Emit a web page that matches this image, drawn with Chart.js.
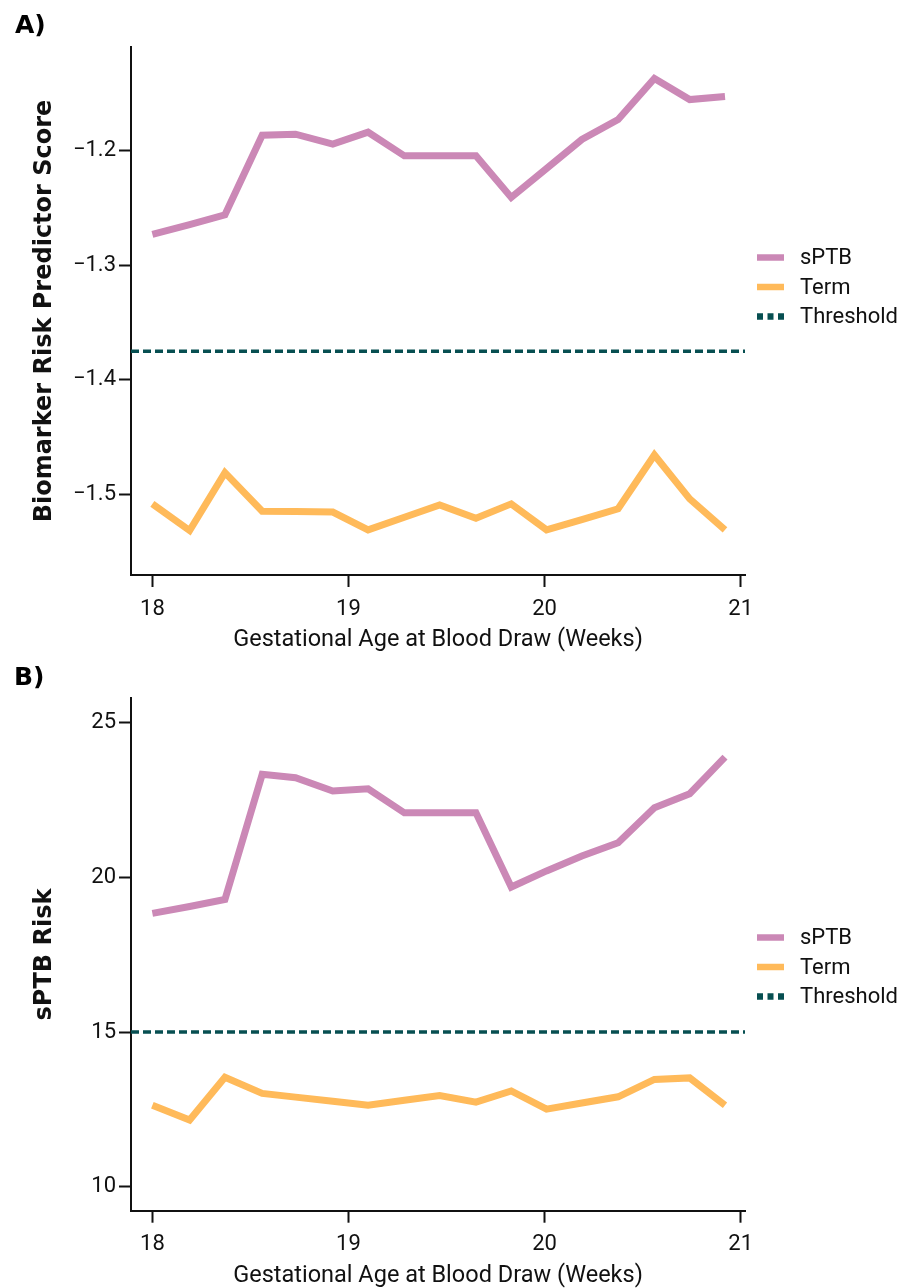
<!DOCTYPE html>
<html>
<head>
<meta charset="utf-8">
<script src="https://cdn.jsdelivr.net/npm/chart.js@4.4.1/dist/chart.umd.min.js"></script>
<style>
  body { margin: 0; background: #fff; width: 908px; height: 1288px; position: relative; overflow: hidden; }
  .panel { position: absolute; left: 0; width: 908px; }
  .lbl { position: absolute; font: bold 25px "DejaVu Sans", sans-serif; line-height: 1; color: #000; }
</style>
</head>
<body>
<div class="panel" style="top:0;height:655px"><canvas id="chartA"></canvas></div>
<div class="panel" style="top:655px;height:633px"><canvas id="chartB"></canvas></div>
<div class="lbl" style="left:15px;top:12px">A)</div>
<div class="lbl" style="left:14px;top:664px">B)</div>
<script>
// gestational age of each draw (weeks)
const weeks = [18.0, 18.19, 18.37, 18.56, 18.73, 18.92, 19.10, 19.285, 19.465, 19.65, 19.83, 20.01, 20.19, 20.375, 20.56, 20.74, 20.92];

// panel A - biomarker risk predictor score
const sptbScore = [-1.273, -1.2645, -1.256, -1.1865, -1.1856, -1.1943, -1.1839, -1.2045, -1.2045, -1.2045, -1.2408, -1.2155, -1.1902, -1.1728, -1.137, -1.1554, -1.1527];
const termScore = [-1.5083, -1.5316, -1.481, -1.5147, -1.515, -1.5155, -1.531, -1.520, -1.5092, -1.5208, -1.5083, -1.531, -1.522, -1.5126, -1.4656, -1.504, -1.531];
const scoreThreshold = -1.375;
const scoreTicks = [-1.5, -1.4, -1.3, -1.2];

// panel B - sPTB risk
const sptbRisk = [18.83, 19.05, 19.28, 23.315, 23.205, 22.776, 22.85, 22.075, 22.075, 22.075, 19.68, 20.2, 20.68, 21.11, 22.24, 22.69, 23.87];
const termRisk = [12.64, 12.16, 13.54, 13.02, 12.9, 12.77, 12.64, 12.8, 12.95, 12.74, 13.1, 12.51, 12.71, 12.91, 13.47, 13.52, 12.64];
const riskThreshold = 15;
const riskTicks = [10, 15, 20, 25];

const weekTicks = [18, 19, 20, 21];
const xMin = 17.891, xMax = 21.022;

const pink = '#CB88B6';
const orange = '#FFBA5A';
const teal = '#074F51';

// draws the legend to the right of the plot
const sideLegend = {
  id: 'sideLegend',
  afterDraw(chart, args, opts) {
    const ctx = chart.ctx;
    chart.data.datasets.forEach((ds, i) => {
      const y = opts.top + i * opts.gap;
      ctx.save();
      ctx.strokeStyle = ds.borderColor;
      ctx.lineWidth = 6.5;
      ctx.setLineDash(ds.borderDash ? [6, 4.5] : []);
      ctx.beginPath();
      ctx.moveTo(757, y);
      ctx.lineTo(784, y);
      ctx.stroke();
      ctx.setLineDash([]);
      ctx.fillStyle = '#111';
      ctx.font = '22px Roboto';
      ctx.textBaseline = 'middle';
      ctx.fillText(ds.label, 800, y + 1);
      ctx.restore();
    });
  }
};

const toPoints = (xs, ys) => xs.map((x, i) => ({ x: x, y: ys[i] }));

const makeChart = (id, cfg) => {
  const fmt = (v) => (v < 0 ? '\u2212' + Math.abs(v).toFixed(1) : String(v));
  new Chart(document.getElementById(id), {
    type: 'line',
    data: {
      datasets: [
        { label: 'sPTB', data: toPoints(weeks, cfg.sptb), borderColor: pink, borderWidth: 7 },
        { label: 'Term', data: toPoints(weeks, cfg.term), borderColor: orange, borderWidth: 7 },
        {
          label: 'Threshold',
          data: [{ x: xMin, y: cfg.threshold }, { x: xMax, y: cfg.threshold }],
          borderColor: teal, borderWidth: 3.5, borderDash: [8, 4]
        }
      ]
    },
    options: {
      responsive: true,
      maintainAspectRatio: false,
      animation: false,
      events: [],
      elements: { point: { radius: 0 }, line: { tension: 0 } },
      layout: { padding: { top: cfg.top, right: 163, left: 0, bottom: 0 } },
      plugins: {
        legend: { display: false },
        tooltip: { enabled: false },
        sideLegend: { top: cfg.legendTop, gap: 29.5 }
      },
      scales: {
        x: {
          type: 'linear',
          min: xMin,
          max: xMax,
          afterBuildTicks: (s) => { s.ticks = weekTicks.map((v) => ({ value: v })); },
          afterFit: (s) => { s.height = cfg.xHeight; },
          grid: { drawOnChartArea: false, tickLength: 12, tickWidth: 2, tickColor: '#111' },
          border: { color: '#111', width: 2 },
          ticks: { color: '#111', font: { family: 'Roboto', size: 22 }, padding: 9, maxRotation: 0 },
          title: {
            display: true,
            text: 'Gestational Age at Blood Draw (Weeks)',
            color: '#111',
            font: { family: 'Roboto', size: 23.5, lineHeight: 1 },
            padding: { top: 0, bottom: cfg.xTitlePad }
          }
        },
        y: {
          min: cfg.yMin,
          max: cfg.yMax,
          afterBuildTicks: (s) => { s.ticks = cfg.ticks.map((v) => ({ value: v })); },
          afterFit: (s) => { s.width = 131; },
          grid: { drawOnChartArea: false, tickLength: 12, tickWidth: 2, tickColor: '#111' },
          border: { color: '#111', width: 2 },
          ticks: { color: '#111', font: { family: 'Roboto', size: 22 }, padding: 3, callback: fmt },
          title: {
            display: true,
            text: cfg.yTitle,
            color: '#111',
            font: { family: 'DejaVu Sans', size: 24, weight: 'bold', lineHeight: 1.2 },
            padding: { top: 30, bottom: 0 }
          }
        }
      }
    },
    plugins: [sideLegend]
  });
};

makeChart('chartA', {
  sptb: sptbScore, term: termScore, threshold: scoreThreshold, ticks: scoreTicks,
  yMin: -1.5704, yMax: -1.1095, yTitle: 'Biomarker Risk Predictor Score',
  top: 47, xHeight: 80, xTitlePad: 3, legendTop: 257.5
});

makeChart('chartB', {
  sptb: sptbRisk, term: termRisk, threshold: riskThreshold, ticks: riskTicks,
  yMin: 9.235, yMax: 25.77, yTitle: 'sPTB Risk',
  top: 43.3, xHeight: 77.3, xTitlePad: 0, legendTop: 282.5
});
</script>
</body>
</html>
